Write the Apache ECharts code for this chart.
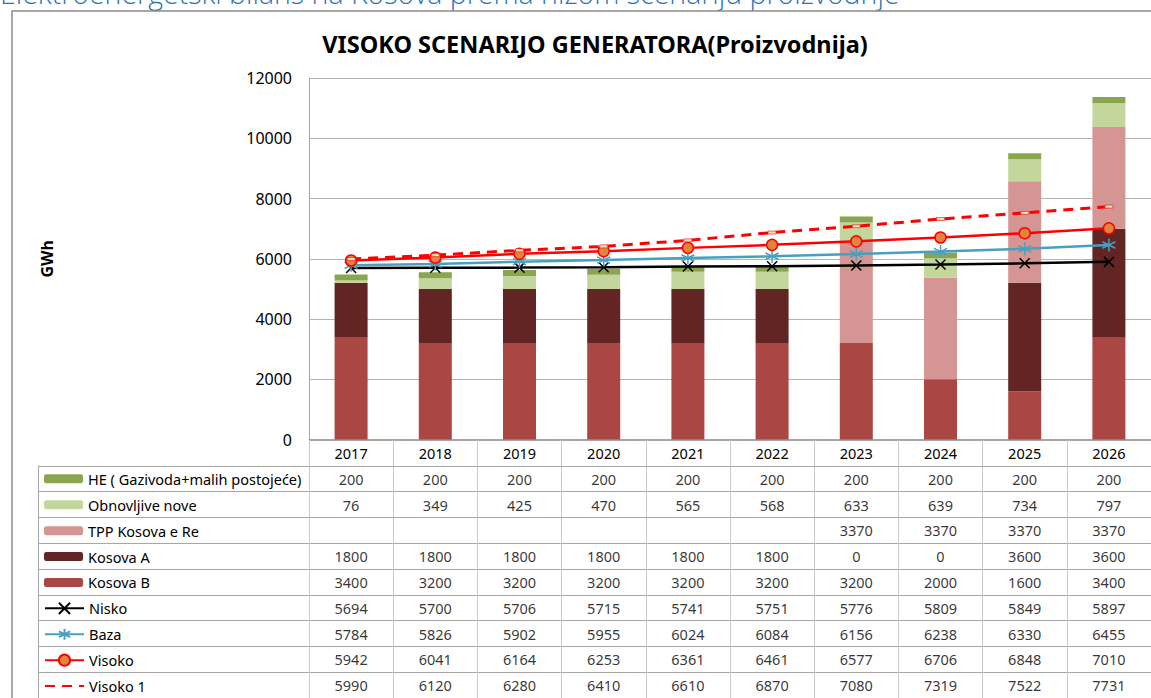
<!DOCTYPE html>
<html>
<head>
<meta charset="utf-8">
<script src="https://cdn.jsdelivr.net/npm/echarts@6/dist/echarts.min.js"></script>
<style>
  html, body { margin: 0; padding: 0; background: #fff; }
  #main { width: 1151px; height: 698px; }
</style>
</head>
<body>
<div id="main"></div>
<script>
// podaci ocitani sa grafika (GWh)
var years = ['2017', '2018', '2019', '2020', '2021', '2022', '2023', '2024', '2025', '2026'];
var he = [200, 200, 200, 200, 200, 200, 200, 200, 200, 200];
var obnovljive = [76, 349, 425, 470, 565, 568, 633, 639, 734, 797];
var tpp = [null, null, null, null, null, null, 3370, 3370, 3370, 3370];
var kosovaA = [1800, 1800, 1800, 1800, 1800, 1800, 0, 0, 3600, 3600];
var kosovaB = [3400, 3200, 3200, 3200, 3200, 3200, 3200, 2000, 1600, 3400];
var nisko = [5694, 5700, 5706, 5715, 5741, 5751, 5776, 5809, 5849, 5897];
var baza = [5784, 5826, 5902, 5955, 6024, 6084, 6156, 6238, 6330, 6455];
var visoko = [5942, 6041, 6164, 6253, 6361, 6461, 6577, 6706, 6848, 7010];
var visoko1 = [5990, 6120, 6280, 6410, 6610, 6870, 7080, 7319, 7522, 7731];
var yMin = 0, yMax = 12000, yStep = 2000;

var FONT = 'Noto Sans';
var ROW_H = 25.9;   // visina reda tabele
var TABLE_TOP = 440;

// redovi tabele (redoslijed kao u legendi)
var rows = [
  { name: 'HE ( Gazivoda+malih postojeće)', data: he, bar: true },
  { name: 'Obnovljive nove', data: obnovljive, bar: true },
  { name: 'TPP Kosova e Re', data: tpp, bar: true },
  { name: 'Kosova A', data: kosovaA, bar: true },
  { name: 'Kosova B', data: kosovaB, bar: true },
  { name: 'Nisko', data: nisko },
  { name: 'Baza', data: baza },
  { name: 'Visoko', data: visoko },
  { name: 'Visoko 1', data: visoko1, hideMarker: true }
];

function rowCenter(k) {
  return TABLE_TOP + ROW_H * (k + 1.5);
}

// vrijednosti u celijama tabele
var cells = [];
rows.forEach(function (r, k) {
  r.data.forEach(function (v, i) {
    if (v !== null) cells.push([i, k + 1.5, v]);
  });
});

var myChart = echarts.init(document.getElementById('main'), null, { renderer: 'svg' });

function bar(name, data, color) {
  return {
    name: name, type: 'bar', stack: 'gen', data: data,
    barWidth: 33, itemStyle: { color: color }
  };
}

var option = {
  animation: false,
  textStyle: { fontFamily: FONT },
  title: {
    text: 'VISOKO SCENARIJO GENERATORA(Proizvodnija)',
    left: 590, top: 27, textAlign: 'center',
    textStyle: { fontFamily: FONT, fontSize: 23.5, fontWeight: 'bold', color: '#000' }
  },
  legend: rows.map(function (r, k) {
    var item = r.hideMarker
      ? { name: r.name, itemStyle: { color: 'rgba(0,0,0,0)', borderColor: 'rgba(0,0,0,0)' } }
      : r.name;
    return {
      data: [item],
      left: 44, top: rowCenter(k) - 8,
      padding: 0, itemGap: 0,
      itemWidth: 39, itemHeight: r.bar ? 9 : 14,
      textStyle: { fontFamily: FONT, fontSize: 14.5, lineHeight: 16, color: '#000' }
    };
  }),
  graphic: [
    {
      type: 'text', left: 0, top: -22, silent: true,
      style: {
        text: 'Elektroenergetski bilans na Kosova prema nizom scenariju proizvodnje',
        font: '300 28.5px "Open Sans"', fill: '#2E75B6'
      }
    },
    {
      type: 'rect', silent: true,
      shape: { x: 12, y: 11, width: 1300, height: 800 },
      style: { fill: 'none', stroke: '#8c8c8c', lineWidth: 1.5 }
    }
  ],
  grid: [
    { left: 309, right: 0, top: 78, height: 361.5 },
    { left: 309, right: 0, top: TABLE_TOP, height: ROW_H * 10 },
    { left: 38, width: 271, top: TABLE_TOP + ROW_H, height: ROW_H * 9 }
  ],
  xAxis: [
    {
      type: 'category', data: years, gridIndex: 0,
      axisLine: { lineStyle: { color: '#a6a6a6' } },
      axisTick: { show: false },
      axisLabel: { margin: 6, fontSize: 14.5, color: '#000' }
    },
    {
      type: 'category', data: years, gridIndex: 1,
      axisLine: { show: false }, axisTick: { show: false }, axisLabel: { show: false },
      splitLine: { show: true, lineStyle: { color: '#c8c8c8' } }
    },
    { type: 'value', gridIndex: 2, show: false }
  ],
  yAxis: [
    {
      type: 'value', gridIndex: 0, min: yMin, max: yMax, interval: yStep,
      name: 'GWh', nameLocation: 'middle', nameGap: 254, nameRotate: 90,
      nameTextStyle: { fontSize: 16, fontWeight: 'bold', color: '#000' },
      axisLine: { show: true, lineStyle: { color: '#a6a6a6' } },
      axisTick: { show: false },
      axisLabel: { margin: 17, fontSize: 16, color: '#000', formatter: function (v) { return String(v); } },
      splitLine: { lineStyle: { color: '#b4b4b4' } }
    },
    {
      type: 'value', gridIndex: 1, min: 0, max: 10, interval: 1, inverse: true,
      axisLine: { show: false }, axisTick: { show: false }, axisLabel: { show: false },
      splitLine: { lineStyle: { color: '#a6a6a6' } }
    },
    {
      type: 'value', gridIndex: 2, min: 1, max: 10, interval: 1, inverse: true,
      axisLine: { show: true, lineStyle: { color: '#a6a6a6' } },
      axisTick: { show: false }, axisLabel: { show: false },
      splitLine: { lineStyle: { color: '#a6a6a6' } }
    }
  ],
  series: [
    bar('Kosova B', kosovaB, '#AA4745'),
    bar('Kosova A', kosovaA, '#632523'),
    bar('TPP Kosova e Re', tpp, '#D59593'),
    bar('Obnovljive nove', obnovljive, '#C3D69B'),
    bar('HE ( Gazivoda+malih postojeće)', he, '#8AA54F'),
    {
      name: 'Nisko', type: 'line', data: nisko, z: 3,
      symbol: 'path://M0,0L10,10M10,0L0,10', symbolSize: 10, showAllSymbol: true,
      lineStyle: { color: '#000', width: 2.5 },
      itemStyle: { color: '#000', borderColor: '#000', borderWidth: 1.5 }
    },
    {
      name: 'Baza', type: 'line', data: baza, z: 4,
      symbol: 'path://M5,0L5,10M0.7,2.5L9.3,7.5M9.3,2.5L0.7,7.5', symbolSize: 13, showAllSymbol: true,
      lineStyle: { color: '#46A0BF', width: 2.5 },
      itemStyle: { color: '#46A0BF', borderColor: '#46A0BF', borderWidth: 1.5 }
    },
    {
      name: 'Visoko', type: 'line', data: visoko, z: 5,
      symbol: 'circle', symbolSize: 11, showAllSymbol: true,
      lineStyle: { color: '#FF0000', width: 2.5 },
      itemStyle: { color: '#E3843C', borderColor: '#FF0000', borderWidth: 1.5 }
    },
    {
      name: 'Visoko 1', type: 'line', data: visoko1, z: 5,
      symbol: 'rect', symbolSize: [8, 3], showAllSymbol: true,
      lineStyle: { color: '#FF0000', width: 3, type: [10, 7] },
      itemStyle: { color: '#D7E4BD', borderColor: '#FF0000', borderWidth: 0.5 }
    },
    {
      name: 'tabela', type: 'scatter', xAxisIndex: 1, yAxisIndex: 1,
      data: cells, symbolSize: 1, silent: true,
      itemStyle: { color: 'transparent' },
      label: {
        show: true, position: 'inside', fontSize: 14.5, color: '#000',
        formatter: function (p) { return p.value[2]; }
      }
    }
  ]
};

myChart.setOption(option);
</script>
</body>
</html>
